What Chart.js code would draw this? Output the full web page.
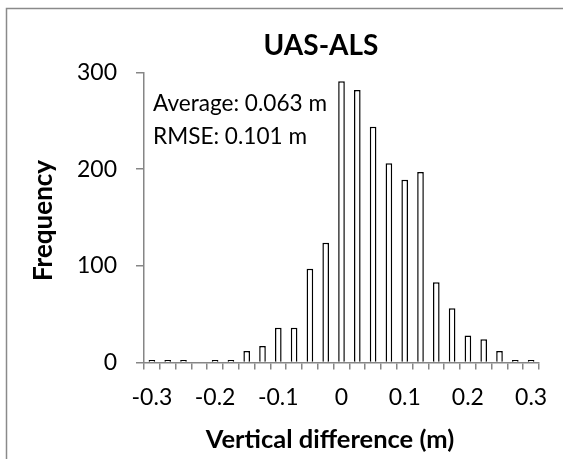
<!DOCTYPE html>
<html>
<head>
<meta charset="utf-8">
<title>UAS-ALS</title>
<script src="https://cdn.jsdelivr.net/npm/chart.js@4.4.1/dist/chart.umd.min.js"></script>
<style>
  html, body { margin: 0; padding: 0; background: #fff; }
  #wrap { position: relative; width: 563px; height: 459px; overflow: hidden; }
</style>
</head>
<body>
<div id="wrap"><canvas id="chart" width="563" height="459"></canvas></div>
<script>
// histogram bins (centre of each bin, m)
const binCenters = [
  -0.3, -0.275, -0.25, -0.225, -0.2, -0.175, -0.15, -0.125, -0.1, -0.075,
  -0.05, -0.025, 0, 0.025, 0.05, 0.075, 0.1, 0.125, 0.15, 0.175,
  0.2, 0.225, 0.25, 0.275, 0.3,
];
const frequency = [
  1, 1, 2, 0, 1, 2, 12, 17, 36, 36,
  97, 124, 291, 282, 244, 206, 189, 197, 83, 56,
  28, 24, 12, 2, 1,
];
// only every 4th bin gets a label
const tickLabels = ["-0.3", "-0.2", "-0.1", "0", "0.1", "0.2", "0.3"];
const yTicks = [0, 100, 200, 300];
const statLines = ["Average: 0.063 m", "RMSE: 0.101 m"];

const axisGray = "#868686";
const fontName = "Lato";

// title, axis titles, stats box and outer frame
const textPlugin = {
  id: "texts",
  beforeDraw(chart) {
    const ctx = chart.ctx;
    ctx.save();
    ctx.strokeStyle = "#8a8a8a";
    ctx.lineWidth = 1.5;
    ctx.strokeRect(6.5, 8.5, 700, 700);
    ctx.restore();
  },
  afterDraw(chart) {
    const ctx = chart.ctx;
    ctx.save();
    ctx.fillStyle = "#000";
    ctx.textAlign = "center";
    ctx.textBaseline = "alphabetic";

    ctx.font = `bold 28px ${fontName}`;
    ctx.fillText("UAS-ALS", 321, 55);

    ctx.font = `bold 25.5px ${fontName}`;
    ctx.fillText("Vertical difference (m)", 330, 448);

    ctx.save();
    ctx.translate(44, 220.5);
    ctx.rotate(-Math.PI / 2);
    ctx.textBaseline = "middle";
    ctx.font = `bold 26px ${fontName}`;
    ctx.fillText("Frequency", 0, 0);
    ctx.restore();

    ctx.textAlign = "left";
    ctx.font = `22.6px ${fontName}`;
    statLines.forEach((line, i) => {
      ctx.fillText(line, 153, 111 + i * 32.5);
    });
    ctx.restore();
  },
};

function drawChart() {
  new Chart(document.querySelector("#chart"), {
    type: "bar",
    data: {
      labels: binCenters,
      datasets: [
        {
          // empty bins get no bar at all
          data: frequency.map((v) => (v === 0 ? null : v)),
          backgroundColor: "#fff",
          borderColor: "#000",
          borderWidth: 1.5,
          minBarLength: 2.5,
          barPercentage: 0.42,
          categoryPercentage: 1,
        },
      ],
    },
    options: {
      responsive: false,
      animation: false,
      layout: { padding: { left: 0, right: 24, top: 72.5, bottom: 0 } },
      plugins: {
        legend: { display: false },
        tooltip: { enabled: false },
        title: { display: false },
      },
      scales: {
        x: {
          offset: true,
          afterFit(scale) {
            scale.height = 96.5;
          },
          grid: {
            display: true,
            offset: true,
            drawOnChartArea: false,
            drawTicks: true,
            tickLength: 7,
            color: axisGray,
            lineWidth: 1.5,
          },
          border: { display: true, color: axisGray, width: 1.5 },
          ticks: {
            autoSkip: false,
            maxRotation: 0,
            minRotation: 0,
            padding: 14,
            color: "#000",
            font: { family: fontName, size: 23 },
            callback: (value, index) =>
              index % 4 === 0 ? tickLabels[index / 4] : "",
          },
        },
        y: {
          min: yTicks[0],
          max: yTicks[yTicks.length - 1],
          afterFit(scale) {
            scale.width = 144;
          },
          afterBuildTicks(scale) {
            scale.ticks = yTicks.map((v) => ({ value: v }));
          },
          grid: {
            display: true,
            drawOnChartArea: false,
            drawTicks: true,
            tickLength: 8,
            color: axisGray,
            lineWidth: 1.5,
          },
          border: { display: true, color: axisGray, width: 1.5 },
          ticks: {
            padding: 19,
            color: "#000",
            font: { family: fontName, size: 23 },
          },
        },
      },
    },
    plugins: [textPlugin],
  });
}

document.fonts.load(`23px ${fontName}`).then(drawChart, drawChart);
</script>
</body>
</html>
